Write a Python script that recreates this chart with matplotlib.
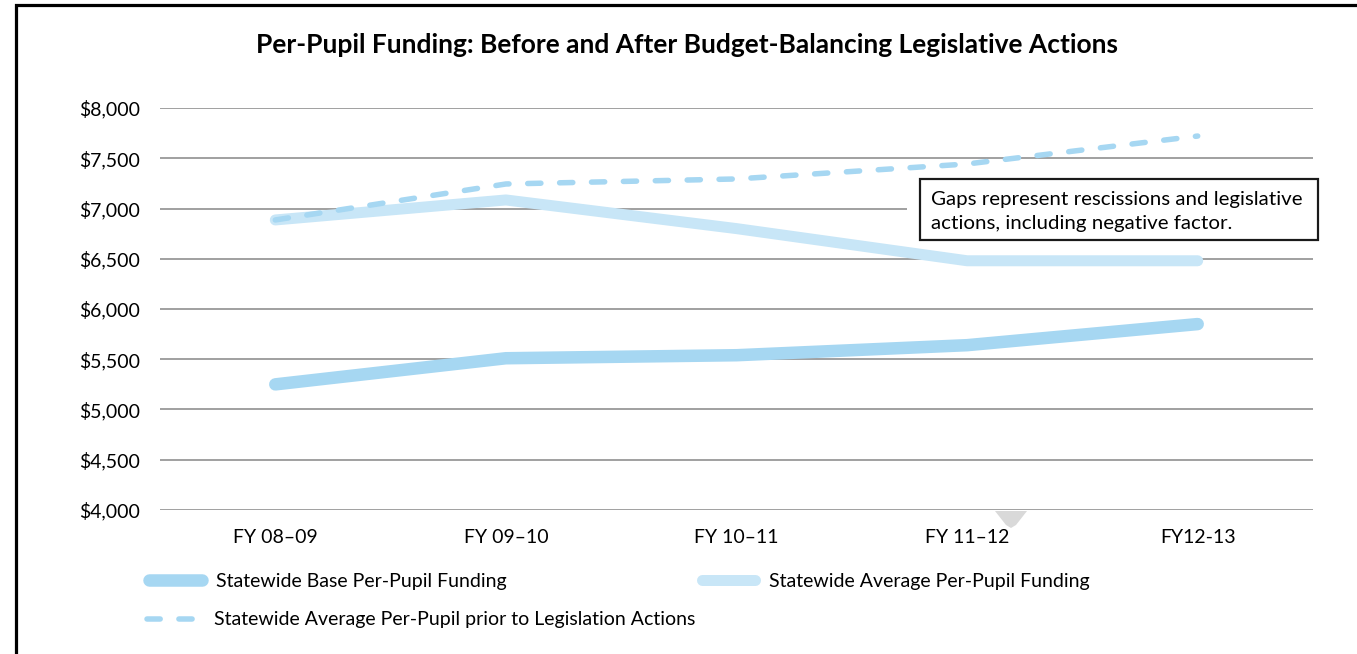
import matplotlib
matplotlib.use("Agg")
import matplotlib.pyplot as plt
from matplotlib.lines import Line2D
from matplotlib.patches import Rectangle, Polygon

# Fiscal years and per-pupil funding (dollars)
years = ["FY 08\u201309", "FY 09\u201310", "FY 10\u201311", "FY 11\u201312", "FY12-13"]
base_funding = [5250, 5510, 5540, 5640, 5850]
average_funding = [6886, 7085, 6800, 6480, 6480]
average_prior = [6886, 7244, 7294, 7443, 7721]
y_ticks = [4000, 4500, 5000, 5500, 6000, 6500, 7000, 7500, 8000]

W, H = 1357, 654
DPI = 100
plt.rcParams["font.family"] = ["Lato", "DejaVu Sans"]

fig = plt.figure(figsize=(W / DPI, H / DPI), dpi=DPI)
fig.patch.set_facecolor("white")

def fx(px):
    return px / W

def fy(py):
    return 1 - py / H

def pt(px):
    return px * 72 / DPI

# outer frame (left and top edges visible)
fig.add_artist(Rectangle((fx(15.5), fy(H + 20)), fx(W + 40), fy(5) - fy(H + 20),
                         transform=fig.transFigure, fill=False,
                         edgecolor="black", linewidth=pt(3.2)))

ax = fig.add_axes([fx(160), fy(510), fx(1313) - fx(160), fy(108) - fy(510)])
ax.set_xlim(-0.5, len(years) - 0.5)
ax.set_ylim(4000, 8000)
ax.set_yticks(y_ticks)
ax.set_yticklabels([f"${v:,}" for v in y_ticks])
ax.set_xticks(range(len(years)))
ax.set_xticklabels(years)
for s in ax.spines.values():
    s.set_visible(False)
ax.tick_params(length=0, labelsize=pt(19.5), colors="black")
ax.tick_params(axis="y", pad=pt(20))
ax.tick_params(axis="x", pad=pt(19))
ax.grid(axis="y", color="#8C8C8C", linewidth=pt(1.6))
ax.set_axisbelow(True)

base_color = "#A6D7F2"
avg_color = "#C8E6F7"
x = list(range(len(years)))

ax.plot(x, average_funding, color=avg_color, linewidth=pt(11),
        solid_capstyle="round", solid_joinstyle="round", zorder=3)
ax.plot(x, average_prior, color=base_color, linewidth=pt(5.5),
        linestyle=(0, (2.4, 3.4)), dash_capstyle="round", zorder=4)
ax.plot(x, base_funding, color=base_color, linewidth=pt(12.5),
        solid_capstyle="round", solid_joinstyle="round", zorder=3)

# title
fig.text(fx(687), fy(45), "Per-Pupil Funding: Before and After Budget-Balancing Legislative Actions",
         ha="center", va="center", fontsize=pt(26.4), fontweight="bold")

# note box
fig.add_artist(Rectangle((fx(907), fy(246)), fx(1322) - fx(907), fy(174) - fy(246),
                         transform=fig.transFigure, facecolor="white",
                         edgecolor="none", zorder=5))
fig.add_artist(Rectangle((fx(920), fy(240)), fx(1318) - fx(920), fy(179) - fy(240),
                         transform=fig.transFigure, facecolor="white",
                         edgecolor="#1a1a1a", linewidth=pt(2.2), zorder=6))
fig.text(fx(931), fy(212), "Gaps represent rescissions and legislative\nactions, including negative factor.",
         ha="left", va="center", fontsize=pt(20.5), linespacing=1.5, zorder=7)

# small grey pointer below the axis
fig.add_artist(Polygon([(fx(995), fy(511)), (fx(1027), fy(511)), (fx(1016), fy(525)),
                        (fx(1011), fy(528)), (fx(1006), fy(525))],
                       closed=True, transform=fig.transFigure,
                       facecolor="#D9D9D9", edgecolor="none"))

# legend entries
entries = [
    (Line2D([], [], color=base_color, linewidth=pt(12.5), solid_capstyle="round"),
     "Statewide Base Per-Pupil Funding", 149, 581),
    (Line2D([], [], color=avg_color, linewidth=pt(11), solid_capstyle="round"),
     "Statewide Average Per-Pupil Funding", 702, 581),
    (Line2D([], [], color=base_color, linewidth=pt(5.5), linestyle=(0, (2.4, 3.4)),
            dash_capstyle="round"),
     "Statewide Average Per-Pupil prior to Legislation Actions", 147, 620),
]
for handle, label, lx, ly in entries:
    fig.legend([handle], [label], loc="center left",
               bbox_to_anchor=(fx(lx), fy(ly)), frameon=False,
               fontsize=pt(19.5), handlelength=2.7, handletextpad=0.75,
               borderpad=0, borderaxespad=0)

fig.savefig("out.png", dpi=DPI, facecolor="white")
